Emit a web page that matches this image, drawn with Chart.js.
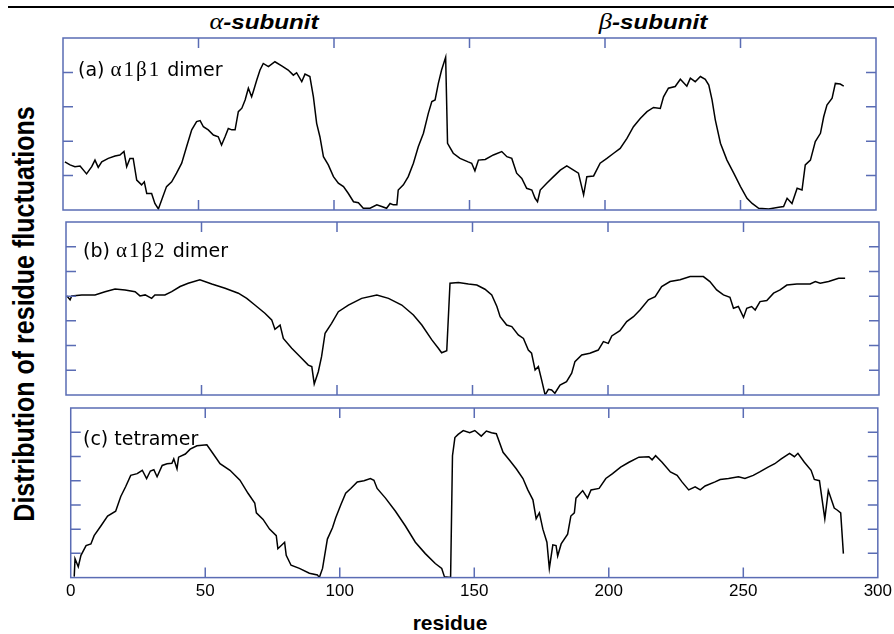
<!DOCTYPE html>
<html>
<head>
<meta charset="utf-8">
<script src="https://cdn.jsdelivr.net/npm/chart.js@4.4.1/dist/chart.umd.min.js"></script>
<style>
  body { margin: 0; background: #fff; }
  #page { position: relative; width: 894px; height: 634px; overflow: hidden; background: #fff; }
  canvas { position: absolute; }
  .rule { position: absolute; left: 8px; top: 6px; width: 886px; height: 2px; background: #000; }
  .sub { position: absolute; top: 9px; width: 200px; text-align: center; font: bold italic 21px "Liberation Sans", Arial, sans-serif; transform: scaleX(1.15); line-height: 24px; }
  .sub .gr { font: italic 23px "Liberation Serif", "Times New Roman", serif; }
  .ytitle { position: absolute; left: -227px; top: 300px; width: 500px; height: 28px; line-height: 28px; text-align: center;
            font: bold 25px "Liberation Sans", Arial, sans-serif; transform: rotate(-90deg) scaleY(1.2); }
  .xtitle { position: absolute; left: 350px; top: 611px; width: 200px; text-align: center; line-height: 24px;
            font: bold 21px "Liberation Sans", Arial, sans-serif; }
  .plabel { position: absolute; font: 19px "DejaVu Sans", Verdana, sans-serif; line-height: 22px; white-space: pre; }
  .plabel .gr { font: 21px "Liberation Serif", "Times New Roman", serif; letter-spacing: 2px; }
</style>
</head>
<body>
<div id="page">
  <div class="rule"></div>
  <div class="sub" style="left:164px"><span class="gr">α</span>-subunit</div>
  <div class="sub" style="left:553px"><span class="gr">β</span>-subunit</div>
  <div class="ytitle">Distribution of residue fluctuations</div>
  <div class="xtitle">residue</div>

  <canvas id="panelA" width="821" height="180" style="left:59px; top:34px"></canvas>
  <canvas id="panelB" width="821" height="181" style="left:62px; top:218px"></canvas>
  <canvas id="panelC" width="834" height="230" style="left:62px; top:404px"></canvas>

  <div class="plabel" style="left:78px; top:57px">(a) <span class="gr">α1β1</span> dimer</div>
  <div class="plabel" style="left:83px; top:238px">(b) <span class="gr">α1β2</span> dimer</div>
  <div class="plabel" style="left:83px; top:427px">(c) tetramer</div>
</div>
<script>
// residue numbers and fluctuation values
const resA = [0.7, 2.6, 4.4, 6.3, 8.7, 10.6, 11.8, 13.0, 14.3, 16.7, 19.2, 21.0, 22.5, 23.5, 24.7, 25.9, 27.2, 29.0, 30.0, 30.9,
  32.7, 33.9, 35.2, 36.4, 38.2, 40.1, 41.9, 43.8, 45.6, 47.5, 49.3, 50.6, 51.8, 53.6, 55.5, 57.3, 58.5, 59.8, 61.0, 62.3,
  63.5, 64.7, 66.0, 67.2, 68.4, 69.6, 70.2, 71.5, 72.7, 73.9, 75.8, 78.2, 80.7, 83.1, 85.0, 86.2, 88.1, 89.3, 91.1, 92.4,
  93.6, 94.8, 96.1, 97.9, 99.8, 101.6, 103.5, 105.3, 107.2, 109.0, 110.8, 113.3, 115.8, 117.6, 119.4, 120.7, 121.9, 123.2, 123.7, 125.6,
  127.4, 129.3, 131.1, 133.0, 134.8, 136.1, 137.3, 138.5, 139.7, 141.2, 141.9, 144.0, 146.5, 149.5, 150.8, 152.0, 153.3, 155.8, 158.8, 161.9,
  163.8, 165.6, 167.4, 169.3, 171.1, 173.0, 174.2, 175.1, 176.1, 178.5, 181.0, 183.5, 185.9, 188.4, 190.2, 192.1, 193.3, 195.8, 198.2, 200.7,
  203.2, 205.6, 208.1, 210.5, 213.0, 215.5, 217.9, 220.4, 221.6, 223.4, 225.9, 227.8, 230.2, 231.5, 233.3, 235.2, 237.0, 238.3, 239.5, 240.7,
  242.6, 245.0, 247.5, 250.0, 252.4, 254.3, 256.7, 260.4, 264.1, 265.9, 267.2, 269.0, 270.9, 272.7, 273.9, 275.8, 277.6, 279.5, 280.7, 281.9,
  283.8, 285.0, 286.8, 288.1];
const flucA = [1.40, 1.31, 1.26, 1.28, 1.05, 1.26, 1.45, 1.24, 1.40, 1.50, 1.57, 1.60, 1.70, 1.26, 1.50, 1.50, 0.87, 0.73, 0.82, 0.48,
  0.48, 0.19, 0.03, 0.29, 0.68, 0.82, 1.07, 1.36, 1.84, 2.33, 2.57, 2.60, 2.42, 2.33, 2.18, 2.13, 1.89, 2.13, 2.37, 2.33,
  2.33, 2.86, 2.96, 3.20, 3.54, 3.29, 3.44, 3.78, 4.07, 4.26, 4.17, 4.31, 4.19, 4.07, 3.92, 3.99, 3.73, 3.95, 3.88, 3.29,
  2.52, 2.13, 1.55, 1.31, 0.97, 0.78, 0.68, 0.48, 0.24, 0.21, 0.05, 0.05, 0.15, 0.10, 0.05, 0.19, 0.15, 0.15, 0.58, 0.73,
  0.97, 1.36, 1.84, 2.23, 2.81, 3.15, 3.20, 3.68, 4.07, 4.44, 1.94, 1.65, 1.50, 1.40, 1.36, 1.14, 1.45, 1.47, 1.60, 1.70,
  1.55, 1.50, 1.07, 0.92, 0.63, 0.58, 0.34, 0.24, 0.58, 0.78, 0.97, 1.16, 1.28, 1.16, 1.07, 0.44, 0.97, 0.99, 1.36, 1.50,
  1.65, 1.79, 2.08, 2.42, 2.66, 2.86, 2.98, 2.95, 3.29, 3.54, 3.59, 3.80, 3.60, 3.83, 3.73, 3.88, 3.80, 3.63, 3.20, 2.62,
  1.94, 1.45, 1.07, 0.68, 0.34, 0.19, 0.05, 0.03, 0.08, 0.10, 0.34, 0.19, 0.63, 0.58, 1.31, 1.45, 1.99, 2.23, 2.71, 3.05,
  3.25, 3.68, 3.66, 3.60];

const resB = [0.3, 1.5, 2.1, 5.8, 10.7, 14.4, 18.1, 21.8, 25.5, 27.3, 29.2, 31.6, 32.8, 36.5, 39.0, 42.1, 45.1, 49.4, 53.8, 58.7,
  63.6, 66.7, 69.7, 73.4, 75.9, 77.1, 79.0, 80.2, 83.3, 86.4, 89.4, 90.7, 91.6, 93.1, 94.3, 95.6, 98.0, 100.5, 104.2, 109.1,
  114.7, 119.0, 123.9, 128.2, 131.3, 135.0, 137.4, 138.6, 140.5, 141.7, 144.8, 148.5, 151.6, 154.6, 157.1, 159.0, 160.2, 162.6, 164.5, 166.9,
  168.8, 170.6, 171.8, 173.1, 174.3, 175.5, 176.8, 178.0, 179.2, 180.4, 182.3, 184.7, 186.6, 187.8, 190.3, 193.3, 196.4, 198.3, 200.1, 201.4,
  204.4, 206.9, 209.4, 211.8, 214.9, 217.4, 219.8, 222.9, 226.6, 230.3, 235.2, 237.6, 240.1, 242.6, 245.0, 246.3, 248.1, 250.0, 251.2, 253.0,
  254.3, 256.1, 258.6, 261.1, 263.5, 266.0, 269.7, 274.6, 276.5, 278.3, 281.4, 285.1, 287.5];
const flucB = [4.01, 3.85, 4.01, 4.05, 4.05, 4.18, 4.29, 4.25, 4.18, 4.01, 4.05, 3.91, 4.05, 4.05, 4.18, 4.39, 4.52, 4.66, 4.49, 4.32,
  4.12, 3.91, 3.64, 3.31, 3.04, 2.66, 2.83, 2.29, 1.89, 1.55, 1.21, 1.15, 0.45, 0.94, 1.55, 2.50, 2.90, 3.37, 3.64, 3.91,
  4.05, 3.91, 3.64, 3.24, 2.83, 2.23, 1.89, 1.71, 1.79, 4.52, 4.55, 4.49, 4.45, 4.28, 4.05, 3.58, 3.17, 2.83, 2.77, 2.43,
  2.29, 1.82, 1.69, 1.01, 1.15, 0.61, 0.00, 0.23, 0.20, 0.07, 0.40, 0.54, 0.88, 1.35, 1.62, 1.69, 1.82, 2.16, 2.09, 2.39,
  2.60, 2.97, 3.17, 3.44, 3.85, 3.98, 4.39, 4.59, 4.66, 4.79, 4.79, 4.59, 4.25, 4.05, 3.95, 3.51, 3.58, 3.14, 3.51, 3.58,
  3.44, 3.78, 3.82, 4.12, 4.25, 4.45, 4.49, 4.49, 4.59, 4.52, 4.59, 4.72, 4.72];

const resC = [1.3, 1.6, 2.8, 3.8, 5.7, 7.5, 8.7, 11.2, 13.7, 16.7, 18.6, 20.4, 22.3, 24.7, 26.6, 28.2, 29.6, 30.9, 32.1, 34.0,
  35.8, 37.6, 38.3, 39.5, 40.1, 42.6, 44.4, 46.9, 50.6, 53.0, 55.5, 59.2, 62.9, 65.9, 68.4, 69.0, 71.5, 73.9, 76.4, 77.0,
  79.5, 80.1, 81.9, 85.0, 88.7, 91.7, 92.4, 93.6, 95.4, 97.3, 98.5, 100.4, 102.2, 104.1, 106.5, 109.0, 111.4, 112.7, 113.9, 117.0,
  120.7, 124.4, 128.1, 131.8, 135.5, 137.9, 138.9, 141.2, 141.9, 142.8, 144.0, 145.9, 148.3, 150.2, 152.6, 154.5, 156.4, 158.2, 160.7, 163.2,
  165.6, 168.1, 169.9, 171.8, 173.0, 174.2, 175.5, 177.0, 177.9, 179.2, 180.4, 181.0, 182.3, 184.7, 185.9, 187.2, 187.8, 190.3, 192.1, 193.4,
  196.4, 198.9, 201.4, 204.4, 207.5, 211.2, 214.9, 216.1, 217.4, 219.8, 222.9, 225.4, 227.2, 229.7, 232.1, 234.0, 235.8, 239.5, 241.4, 244.5,
  248.2, 250.6, 253.7, 256.1, 259.2, 261.7, 264.1, 267.2, 269.0, 270.3, 272.7, 275.2, 276.4, 278.3, 280.3, 281.6, 283.8, 285.0, 286.2, 287.2];
const flucC = [0.04, 0.78, 0.45, 0.92, 1.32, 1.39, 1.73, 2.13, 2.54, 2.74, 3.35, 3.75, 4.22, 4.29, 4.43, 4.09, 4.40, 4.45, 4.16, 4.63,
  4.70, 4.72, 4.90, 4.49, 4.97, 5.10, 5.30, 5.44, 5.48, 5.10, 4.70, 4.43, 4.02, 3.48, 3.08, 2.67, 2.40, 2.00, 1.73, 1.19,
  1.46, 0.92, 0.51, 0.38, 0.18, 0.11, 0.00, 0.38, 1.59, 2.06, 2.47, 3.01, 3.48, 3.68, 3.95, 4.00, 4.09, 4.02, 3.68, 3.28,
  2.74, 2.13, 1.46, 0.99, 0.58, 0.38, 0.04, 0.00, 5.03, 5.78, 5.91, 6.07, 5.98, 6.07, 5.84, 6.05, 5.98, 5.94, 5.17, 4.83,
  4.49, 4.09, 3.62, 3.21, 2.43, 2.67, 2.00, 1.46, 0.38, 1.35, 1.32, 0.89, 1.39, 1.79, 2.54, 2.67, 3.28, 3.59, 3.28, 3.62,
  3.68, 4.09, 4.29, 4.56, 4.76, 4.97, 4.99, 4.86, 5.03, 4.76, 4.36, 4.22, 3.95, 3.62, 3.75, 3.62, 3.78, 3.95, 4.05, 4.09,
  4.16, 4.09, 4.22, 4.36, 4.56, 4.70, 4.90, 5.13, 4.99, 5.13, 4.76, 4.43, 4.05, 4.00, 2.43, 3.59, 2.87, 2.78, 2.67, 0.99];

const xTicks = [0, 50, 100, 150, 200, 250, 300];
const yTicksA = [1, 2, 3, 4];
const yTicksBC = [1, 2, 3, 4, 5, 6];

const FRAME = '#5a6cb4';
const TICK = 10;

// box + inward tick marks on all four sides
const panelFrame = {
    id: 'panelFrame',
    afterDraw(chart, args, opts) {
        const { ctx, chartArea: a } = chart;
        const x = chart.scales.x;
        const y = chart.scales.y;
        ctx.save();
        ctx.strokeStyle = FRAME;
        ctx.lineWidth = 1.5;
        ctx.strokeRect(a.left, a.top, a.right - a.left, a.bottom - a.top);
        ctx.beginPath();
        opts.xTicks.forEach(v => {
            if (v <= x.min || v >= x.max) return;
            const px = x.getPixelForValue(v);
            ctx.moveTo(px, a.top);
            ctx.lineTo(px, a.top + TICK);
            ctx.moveTo(px, a.bottom);
            ctx.lineTo(px, a.bottom - TICK);
        });
        opts.yTicks.forEach(v => {
            const py = y.getPixelForValue(v);
            ctx.moveTo(a.left, py);
            ctx.lineTo(a.left + TICK, py);
            ctx.moveTo(a.right, py);
            ctx.lineTo(a.right - TICK, py);
        });
        ctx.stroke();
        ctx.restore();
    }
};

function makePanel(id, res, fluc, yMax, yTicks, showAxis) {
    const points = res.map((r, i) => ({ x: r, y: fluc[i] }));
    return new Chart(document.getElementById(id), {
        type: 'line',
        plugins: [panelFrame],
        data: {
            datasets: [{
                data: points,
                borderColor: '#000',
                borderWidth: 1.5,
                pointRadius: 0,
                tension: 0,
                fill: false
            }]
        },
        options: {
            responsive: false,
            animation: false,
            events: [],
            layout: {
                // bottom room left under the tick labels is for the html "residue" title
                padding: showAxis ? { left: 6, right: 16, top: 4, bottom: 28 } : 4
            },
            plugins: {
                legend: { display: false },
                tooltip: { enabled: false },
                panelFrame: { xTicks: xTicks, yTicks: yTicks }
            },
            scales: {
                x: {
                    type: 'linear',
                    min: 0,
                    max: 300,
                    display: showAxis,
                    afterBuildTicks: s => { s.ticks = xTicks.map(v => ({ value: v })); },
                    grid: { display: false, drawTicks: false },
                    border: { display: false },
                    ticks: {
                        color: '#000',
                        padding: 4,
                        font: { family: '"Liberation Sans", Arial, sans-serif', size: 17 }
                    }
                },
                y: {
                    min: 0,
                    max: yMax,
                    display: false
                }
            }
        }
    });
}

makePanel('panelA', resA, flucA, 5, yTicksA, false);
makePanel('panelB', resB, flucB, 7, yTicksBC, false);
makePanel('panelC', resC, flucC, 7, yTicksBC, true);
</script>
</body>
</html>
